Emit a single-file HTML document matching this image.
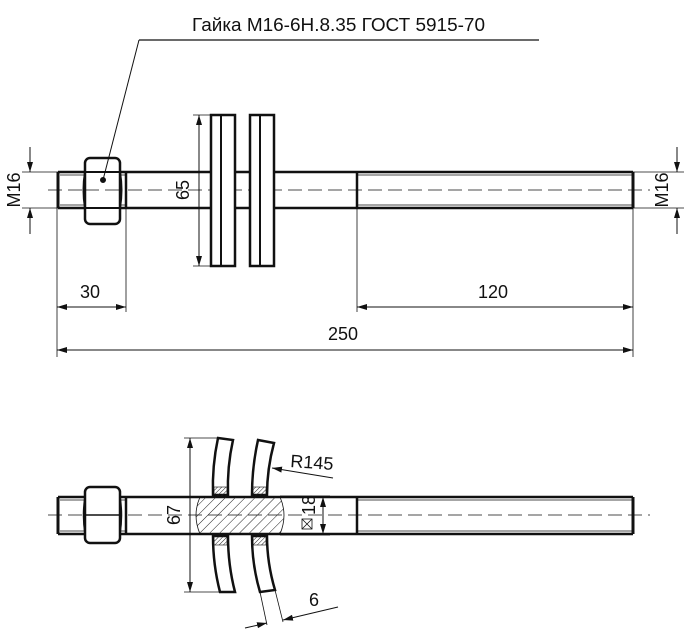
<!DOCTYPE html>
<html><head><meta charset="utf-8"><style>
html,body{margin:0;padding:0;background:#fff}
svg{display:block}
text{font-family:"Liberation Sans","DejaVu Sans",sans-serif;fill:#111}
</style></head><body>
<svg width="684" height="635" viewBox="0 0 684 635" xmlns="http://www.w3.org/2000/svg">
<defs>
<marker id="a" viewBox="0 0 10 6" refX="10" refY="3" markerWidth="10" markerHeight="6" orient="auto-start-reverse" markerUnits="userSpaceOnUse"><path d="M0,0L10,3L0,6z" fill="#111"/></marker>
<pattern id="h" width="7" height="7" patternUnits="userSpaceOnUse" patternTransform="rotate(45)"><line x1="0" y1="0" x2="0" y2="7" stroke="#222" stroke-width="1"/></pattern>
<pattern id="h2" width="3" height="3" patternUnits="userSpaceOnUse" patternTransform="rotate(45)"><line x1="0" y1="0" x2="0" y2="3" stroke="#222" stroke-width="1"/></pattern>
</defs>
<g stroke="#111" fill="none">
<line x1="48" y1="190" x2="650" y2="190" stroke-width="0.8" stroke-dasharray="14,6"/>
<line x1="58" y1="172" x2="633" y2="172" stroke-width="2.5"/>
<line x1="58" y1="208" x2="633" y2="208" stroke-width="2.5"/>
<line x1="58" y1="172" x2="58" y2="208" stroke-width="3"/>
<line x1="633" y1="172" x2="633" y2="208" stroke-width="3"/>
<line x1="126" y1="172" x2="126" y2="208" stroke-width="2.5"/>
<line x1="357" y1="172" x2="357" y2="208" stroke-width="2.5"/>
<line x1="60" y1="175" x2="126" y2="175" stroke-width="0.8"/>
<line x1="60" y1="205" x2="126" y2="205" stroke-width="0.8"/>
<line x1="357" y1="175" x2="632" y2="175" stroke-width="0.8"/>
<line x1="357" y1="205" x2="632" y2="205" stroke-width="0.8"/>
<rect x="85" y="158" width="35" height="66" rx="5" fill="#fff" stroke-width="2.5"/>
<path d="M85,172 Q82,190 85,208 M120,172 Q123,190 120,208" stroke-width="2"/>
<line x1="85" y1="172" x2="120" y2="172" stroke-width="2"/>
<line x1="85" y1="208" x2="120" y2="208" stroke-width="2"/>
<line x1="85" y1="190" x2="120" y2="190" stroke-width="0.8" stroke-dasharray="14,6"/>
<line x1="139" y1="40" x2="539" y2="40" stroke-width="1.2"/>
<line x1="139" y1="40" x2="103" y2="180" stroke-width="1"/>
<circle cx="103" cy="180" r="2.5" fill="#111"/>
<rect x="211" y="115" width="24" height="151" fill="#fff" stroke-width="2.5"/>
<line x1="221" y1="115" x2="221" y2="266" stroke-width="2"/>
<rect x="250" y="115" width="24" height="151" fill="#fff" stroke-width="2.5"/>
<line x1="260" y1="115" x2="260" y2="266" stroke-width="2"/>
<line x1="199" y1="115" x2="199" y2="266" stroke-width="1" marker-start="url(#a)" marker-end="url(#a)"/>
<line x1="193" y1="115" x2="211" y2="115" stroke-width="0.8"/>
<line x1="193" y1="266" x2="211" y2="266" stroke-width="0.8"/>
<line x1="22" y1="172" x2="58" y2="172" stroke-width="0.8"/>
<line x1="22" y1="208" x2="58" y2="208" stroke-width="0.8"/>
<line x1="30" y1="147" x2="30" y2="172" stroke-width="1" marker-end="url(#a)"/>
<line x1="30" y1="234" x2="30" y2="208" stroke-width="1" marker-end="url(#a)"/>
<line x1="633" y1="172" x2="684" y2="172" stroke-width="0.8"/>
<line x1="633" y1="208" x2="684" y2="208" stroke-width="0.8"/>
<line x1="677" y1="147" x2="677" y2="172" stroke-width="1" marker-end="url(#a)"/>
<line x1="677" y1="234" x2="677" y2="208" stroke-width="1" marker-end="url(#a)"/>
<line x1="57" y1="208" x2="57" y2="357" stroke-width="0.8"/>
<line x1="126" y1="208" x2="126" y2="312" stroke-width="0.8"/>
<line x1="357" y1="208" x2="357" y2="312" stroke-width="0.8"/>
<line x1="633" y1="208" x2="633" y2="357" stroke-width="0.8"/>
<line x1="57" y1="307" x2="126" y2="307" stroke-width="1" marker-start="url(#a)" marker-end="url(#a)"/>
<line x1="357" y1="307" x2="633" y2="307" stroke-width="1" marker-start="url(#a)" marker-end="url(#a)"/>
<line x1="57" y1="350" x2="633" y2="350" stroke-width="1" marker-start="url(#a)" marker-end="url(#a)"/>

<line x1="48" y1="515" x2="650" y2="515" stroke-width="0.8" stroke-dasharray="14,6"/>
<line x1="58" y1="497" x2="633" y2="497" stroke-width="2.5"/>
<line x1="58" y1="534" x2="633" y2="534" stroke-width="2.5"/>
<line x1="58" y1="497" x2="58" y2="534" stroke-width="3"/>
<line x1="633" y1="497" x2="633" y2="534" stroke-width="3"/>
<line x1="126" y1="497" x2="126" y2="534" stroke-width="2.5"/>
<line x1="357" y1="497" x2="357" y2="534" stroke-width="2.5"/>
<line x1="60" y1="500" x2="126" y2="500" stroke-width="0.8"/>
<line x1="60" y1="531" x2="126" y2="531" stroke-width="0.8"/>
<line x1="357" y1="500" x2="632" y2="500" stroke-width="0.8"/>
<line x1="357" y1="531" x2="632" y2="531" stroke-width="0.8"/>
<rect x="85" y="487" width="35" height="56" rx="5" fill="#fff" stroke-width="2.5"/>
<path d="M85,497 Q82,515 85,534 M120,497 Q123,515 120,534" stroke-width="1.5"/>
<line x1="85" y1="515" x2="120" y2="515" stroke-width="1.5"/>
<path d="M200,497 L280,497 Q288,515 280,534 L200,534 Q192,515 200,497z" fill="url(#h)" stroke-width="0.8"/>
<path d="M218,438 L233,440 Q227,467 228,495 L213,495 Q212,466 218,438z" fill="#fff" stroke-width="2.5"/>
<path d="M258,440 L274,443 Q267,469 267,495 L252,495 Q252,467 258,440z" fill="#fff" stroke-width="2.5"/>
<path d="M213,536 L228,536 Q228,565 235,592 L220,592 Q213,565 213,536z" fill="#fff" stroke-width="2.5"/>
<path d="M252,536 L267,536 Q267,563 275,590 L260,592 Q252,565 252,536z" fill="#fff" stroke-width="2.5"/>
<rect x="214" y="487" width="13" height="9" fill="url(#h2)" stroke-width="0.6"/>
<rect x="253" y="487" width="13" height="9" fill="url(#h2)" stroke-width="0.6"/>
<rect x="214" y="536" width="13" height="9" fill="url(#h2)" stroke-width="0.6"/>
<rect x="253" y="536" width="13" height="9" fill="url(#h2)" stroke-width="0.6"/>
<line x1="184" y1="438" x2="218" y2="438" stroke-width="0.8"/>
<line x1="184" y1="592" x2="220" y2="592" stroke-width="0.8"/>
<line x1="190" y1="438" x2="190" y2="592" stroke-width="1" marker-start="url(#a)" marker-end="url(#a)"/>
<line x1="280" y1="496" x2="330" y2="496" stroke-width="0.8"/>
<line x1="280" y1="535" x2="330" y2="535" stroke-width="0.8"/>
<line x1="323" y1="497" x2="323" y2="534" stroke-width="1" marker-start="url(#a)" marker-end="url(#a)"/>
<rect x="302" y="519" width="10" height="10" stroke-width="0.8"/>
<path d="M302,519L312,529M312,519L302,529" stroke-width="0.8"/>
<line x1="333" y1="478" x2="272" y2="468" stroke-width="1" marker-end="url(#a)"/>
<line x1="260" y1="592" x2="267" y2="625" stroke-width="0.8"/>
<line x1="275" y1="590" x2="283" y2="622" stroke-width="0.8"/>
<line x1="245" y1="628" x2="267" y2="623" stroke-width="1" marker-end="url(#a)"/>
<line x1="338" y1="607" x2="283" y2="620" stroke-width="1" marker-end="url(#a)"/>
</g>
<g font-size="18">
<text x="192" y="31" textLength="293" lengthAdjust="spacingAndGlyphs">Гайка М16-6Н.8.35 ГОСТ 5915-70</text>
<text x="80" y="298">30</text>
<text x="478" y="298">120</text>
<text x="328" y="340">250</text>
<text transform="translate(189,190) rotate(-90)" text-anchor="middle">65</text>
<text transform="translate(20,190) rotate(-90)" text-anchor="middle">M16</text>
<text transform="translate(668,190) rotate(-90)" text-anchor="middle">M16</text>
<text transform="translate(180,515) rotate(-90)" text-anchor="middle">67</text>
<text transform="translate(315,505) rotate(-90)" text-anchor="middle">18</text>
<text x="290" y="467" transform="rotate(4 290 467)">R145</text>
<text x="309" y="606">6</text>
</g>
</svg>
</body></html>
